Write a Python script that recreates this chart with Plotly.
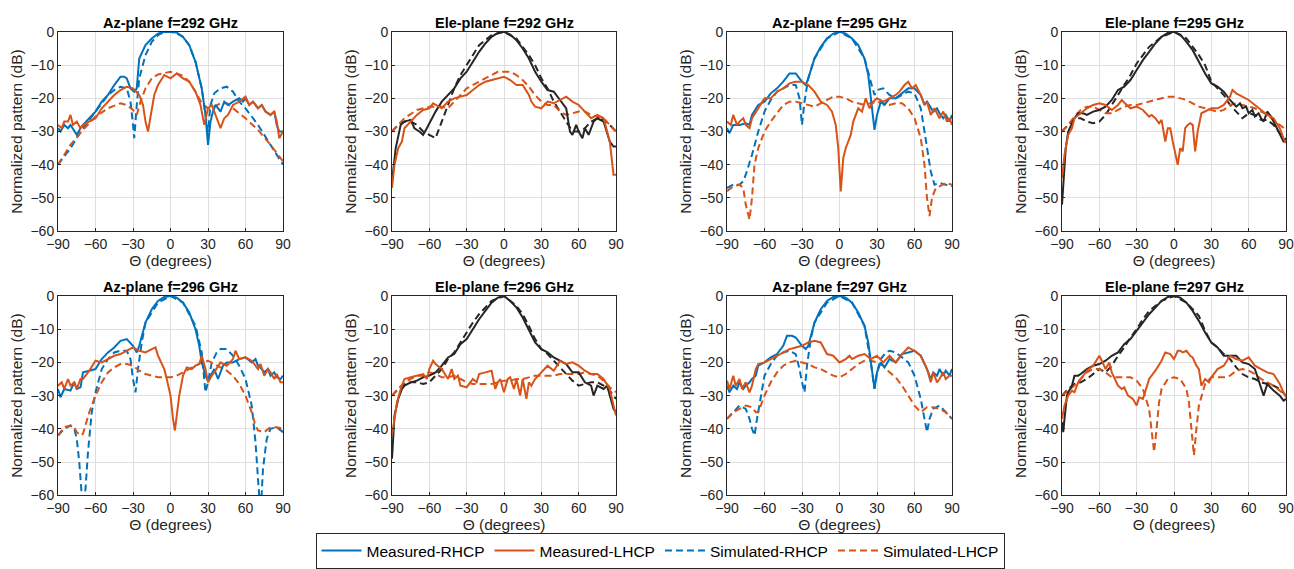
import plotly.graph_objects as go

# ---------------- DATA (theta in degrees, pattern in dB) ----------------
# Panel titles
TITLES = ["Az-plane f=292 GHz", "Ele-plane f=292 GHz", "Az-plane f=295 GHz", "Ele-plane f=295 GHz",
          "Az-plane f=296 GHz", "Ele-plane f=296 GHz", "Az-plane f=297 GHz", "Ele-plane f=297 GHz"]
X_TICKS = [-90, -60, -30, 0, 30, 60, 90]
Y_TICKS = [-60, -50, -40, -30, -20, -10, 0]
SERIES_NAMES = ["Measured-RHCP", "Measured-LHCP", "Simulated-RHCP", "Simulated-LHCP"]

# ---- Az-plane 292 GHz
AZ292_MEAS_RHCP = [(-90,-29),(-88,-30),(-85,-28),(-82,-29),(-80,-28),(-77,-30),(-75,-31),(-72,-29),(-70,-28),(-65,-26),(-60,-24),(-55,-21),(-50,-19),(-45,-16),(-40,-13.5),(-37,-13.5),(-35,-14),(-32,-17),(-29,-18),(-27,-17),(-25,-8),(-20,-4),(-15,-2),(-10,-0.5),(-5,0),(0,0),(5,-0.2),(10,-1.5),(15,-4),(20,-9),(25,-17),(28,-25),(30,-34),(32,-27),(34,-24),(36,-22),(40,-24),(43,-21),(46,-22),(50,-21),(55,-20),(58,-21),(60,-20),(63,-22),(66,-21),(70,-23),(73,-22),(76,-24),(80,-25),(83,-24),(85,-28),(87,-30),(90,-30)]
AZ292_MEAS_LHCP = [(-90,-28),(-87,-29),(-85,-27),(-82,-27),(-80,-25),(-78,-28),(-75,-27),(-72,-29),(-70,-28),(-65,-27),(-60,-26),(-55,-23),(-50,-21),(-45,-19),(-40,-17.5),(-35,-16.5),(-30,-17),(-25,-19),(-22,-22),(-20,-27),(-18,-30),(-16,-26),(-13,-19),(-10,-16),(-5,-13),(0,-14),(5,-12.5),(10,-14),(15,-15),(20,-18),(24,-22),(27,-28),(30,-23),(33,-22),(36,-25),(40,-29),(43,-26),(46,-25),(50,-22),(55,-21),(60,-19.5),(63,-22),(66,-21),(70,-23),(73,-22),(76,-24),(80,-25),(83,-24),(85,-27),(87,-32),(90,-30)]
AZ292_SIM_RHCP = [(-90,-40),(-80,-35),(-70,-29),(-60,-24),(-50,-19),(-45,-17.5),(-40,-16.5),(-35,-17),(-32,-21),(-30,-28),(-29,-32),(-27,-22),(-25,-14),(-20,-7),(-15,-3),(-10,-1),(-5,0),(0,0),(5,-0.5),(10,-1.5),(15,-4),(20,-9),(25,-17),(28,-25),(30,-30),(32,-22),(35,-18.5),(40,-17),(45,-16.5),(50,-18),(55,-21),(60,-23),(70,-28),(80,-34),(90,-40)]
AZ292_SIM_LHCP = [(-90,-40),(-80,-34),(-70,-29.5),(-60,-25.5),(-50,-23),(-40,-21.5),(-35,-22),(-30,-23.5),(-27,-25),(-24,-21),(-20,-17),(-15,-14),(-10,-12.8),(-5,-12.3),(0,-12),(5,-12.5),(10,-13.2),(15,-15),(20,-18),(25,-21.5),(30,-23),(35,-22.5),(40,-21.5),(45,-21.5),(50,-23),(55,-24.5),(60,-26),(70,-29.5),(80,-34),(90,-39)]

# ---- Ele-plane 292 GHz
EL292_MEAS_RHCP = [(-90,-45),(-87,-35),(-83,-28),(-80,-27),(-75,-26.5),(-72,-29),(-68,-30),(-65,-31),(-62,-29),(-58,-26),(-55,-24),(-50,-21),(-45,-19),(-40,-17),(-35,-14),(-30,-12),(-25,-9),(-20,-6),(-15,-3.5),(-10,-1.5),(-5,-0.3),(0,0),(5,-0.8),(10,-2.5),(15,-5),(20,-8),(25,-12),(30,-15),(35,-17.5),(40,-18),(45,-20.5),(50,-23),(53,-30),(55,-31),(58,-28),(60,-30),(63,-32),(65,-29),(68,-31),(72,-27),(75,-26),(80,-27),(85,-33),(88,-34.5),(90,-34.5)]
EL292_MEAS_LHCP = [(-90,-47),(-88,-40),(-85,-35),(-82,-33),(-80,-29),(-75,-27),(-70,-25),(-65,-23.5),(-60,-23),(-57,-21.5),(-55,-22),(-50,-23),(-45,-21),(-40,-20),(-35,-19.5),(-30,-19),(-25,-17.5),(-20,-16),(-15,-15),(-10,-14.5),(-5,-14),(0,-13.5),(5,-14.5),(10,-16),(15,-16),(20,-19),(22,-21),(25,-22.5),(30,-23),(35,-21),(40,-21.5),(45,-20.5),(50,-19.5),(55,-21),(60,-22),(65,-24),(70,-26),(75,-25),(80,-26),(85,-33),(88,-43),(90,-43)]
EL292_SIM_RHCP = [(-90,-30),(-85,-28),(-80,-27),(-75,-27),(-70,-28),(-65,-30),(-60,-31),(-55,-32),(-52,-29),(-48,-25),(-45,-22),(-40,-17),(-35,-13),(-30,-10),(-25,-7),(-20,-4),(-10,-1),(0,0),(10,-2),(20,-7),(25,-10),(30,-14),(35,-17),(40,-21),(45,-24),(50,-27),(55,-30),(60,-30),(65,-29),(70,-27),(75,-26),(80,-26.5),(85,-28),(90,-30)]
EL292_SIM_LHCP = [(-90,-30),(-80,-26),(-70,-23.5),(-60,-22.5),(-50,-22.5),(-45,-23),(-40,-21),(-35,-19),(-30,-17),(-20,-15),(-10,-13),(-5,-12),(0,-12),(5,-12),(10,-13),(15,-14.5),(20,-16.5),(25,-19),(30,-21),(35,-22),(40,-22),(45,-24),(50,-25),(55,-24.5),(60,-24),(65,-24),(70,-25),(80,-26),(85,-28),(90,-30)]

# ---- Az-plane 295 GHz
AZ295_MEAS_RHCP = [(-90,-29),(-88,-30.5),(-85,-28),(-80,-28),(-75,-27.5),(-72,-28),(-70,-25),(-65,-22),(-60,-21),(-55,-18.5),(-50,-17),(-45,-15),(-40,-12.5),(-35,-12.5),(-30,-15),(-27,-16),(-25,-14),(-20,-8),(-15,-4.5),(-10,-2),(-5,-0.5),(0,0),(5,-0.5),(10,-2),(15,-4),(20,-8),(23,-13),(25,-20),(28,-29.5),(30,-25),(33,-21),(36,-22),(40,-20),(45,-20),(50,-18.5),(55,-17),(60,-17),(65,-19),(68,-22),(70,-21),(75,-24),(78,-23),(80,-24.5),(83,-26),(85,-25),(88,-27),(90,-25)]
AZ295_MEAS_LHCP = [(-90,-27),(-87,-28),(-85,-25),(-82,-28),(-80,-27),(-77,-26),(-75,-28),(-72,-29),(-70,-26),(-65,-23),(-60,-20),(-55,-20),(-50,-18),(-45,-17),(-40,-15.5),(-35,-15),(-30,-15),(-25,-16),(-20,-18),(-15,-21),(-10,-22),(-6,-24),(-3,-28),(-1,-35),(1,-48),(3,-38),(5,-35),(7,-33),(9,-31),(11,-27),(13,-25),(15,-23),(18,-24),(21,-20),(24,-23),(27,-21),(30,-20),(35,-21),(40,-20),(45,-19),(48,-18),(52,-16),(55,-15),(58,-17),(61,-16),(65,-19),(68,-22),(70,-21),(73,-25),(76,-23),(80,-26),(83,-24),(86,-27),(88,-26),(90,-28)]
AZ295_SIM_RHCP = [(-90,-47),(-85,-46),(-80,-46),(-77,-45),(-75,-43),(-70,-37),(-65,-30),(-60,-24),(-55,-20.5),(-50,-18),(-45,-17),(-40,-16),(-35,-16),(-32,-20),(-30,-28),(-28,-21),(-25,-14),(-20,-8),(-10,-2),(0,0),(10,-2),(20,-8),(25,-15),(28,-19),(30,-17.5),(35,-17),(40,-19),(45,-20),(50,-19),(55,-18),(60,-18.5),(65,-23),(68,-30),(70,-35),(73,-42),(76,-46),(80,-45.5),(85,-46),(90,-46.5)]
AZ295_SIM_LHCP = [(-90,-48),(-85,-46.5),(-80,-46),(-77,-47),(-75,-52),(-72,-56.5),(-70,-50),(-68,-40),(-65,-35),(-60,-30),(-55,-27),(-50,-24.5),(-45,-22),(-40,-21),(-35,-21),(-30,-21.5),(-25,-22),(-20,-22.5),(-15,-21.5),(-10,-20.5),(-5,-19.5),(0,-19.5),(5,-20),(10,-21),(15,-21.5),(20,-22),(25,-21.5),(30,-21),(35,-21.5),(40,-22),(45,-21.5),(50,-21.5),(55,-23),(60,-26),(65,-32),(68,-40),(70,-50),(72,-55.5),(74,-50),(77,-47),(80,-46.5),(85,-45.5),(90,-46)]

# ---- Ele-plane 295 GHz
EL295_MEAS_RHCP = [(-90,-52),(-89,-45),(-87,-35),(-85,-30),(-80,-26),(-77,-24.5),(-73,-24.5),(-70,-25),(-65,-24),(-60,-23.5),(-55,-22.5),(-50,-20.5),(-45,-17.5),(-40,-16.5),(-35,-14.5),(-30,-11.5),(-25,-8.5),(-20,-6),(-15,-3.5),(-10,-1.5),(-5,-0.3),(0,0),(5,-0.8),(10,-3),(15,-5.5),(20,-9),(25,-12.5),(30,-15.5),(35,-16.5),(40,-18),(45,-20.5),(50,-22.5),(53,-21.5),(55,-23),(58,-22.5),(60,-24.5),(63,-23.5),(65,-25.5),(68,-24.5),(70,-26),(72,-27),(75,-24),(78,-25.5),(80,-27),(85,-31),(88,-33),(90,-33)]
EL295_MEAS_LHCP = [(-90,-44),(-88,-37),(-85,-31),(-82,-29),(-80,-26),(-75,-24.5),(-70,-23),(-65,-22),(-60,-21.5),(-55,-22),(-50,-23.5),(-45,-22),(-42,-20.5),(-38,-22),(-35,-23),(-30,-22.5),(-25,-23.5),(-20,-25.5),(-18,-25),(-15,-26),(-12,-27.5),(-10,-26.5),(-7,-33),(-5,-29),(-3,-29),(-1,-33),(1,-37),(3,-40),(5,-35),(7,-36),(9,-29),(11,-28),(13,-27.5),(15,-28),(17,-36),(19,-30),(22,-24.5),(25,-24),(30,-23),(35,-23),(40,-22),(45,-19.5),(47,-17.5),(50,-18.5),(55,-19.5),(60,-20.5),(65,-22),(70,-23.5),(75,-25),(80,-26),(85,-29),(88,-32),(90,-33.5)]
EL295_SIM_RHCP = [(-90,-30),(-85,-28),(-80,-26),(-75,-26),(-70,-27),(-65,-27.5),(-60,-27),(-55,-25),(-50,-22),(-45,-19),(-40,-16),(-35,-13),(-30,-9.5),(-25,-7),(-20,-4.5),(-10,-1.5),(0,0),(10,-2),(20,-7),(25,-10),(30,-15),(35,-17),(40,-19),(45,-22),(50,-24),(55,-26),(60,-24.5),(65,-25),(70,-26.5),(75,-26.5),(80,-28),(85,-30.5),(90,-32.5)]
EL295_SIM_LHCP = [(-90,-30),(-85,-28),(-80,-25.5),(-75,-23.5),(-70,-22.5),(-65,-22.5),(-60,-23.5),(-55,-24.5),(-50,-24.5),(-45,-23.5),(-40,-22.5),(-35,-22),(-30,-22),(-25,-21.5),(-20,-21),(-15,-20.5),(-10,-20),(-5,-19.5),(0,-19.5),(5,-20),(10,-20.5),(15,-21.5),(20,-22.5),(25,-23),(30,-23.5),(35,-24),(40,-23.5),(45,-22),(50,-21.5),(55,-22),(60,-22.5),(65,-23),(70,-24),(75,-25),(80,-26.5),(85,-28),(90,-29.5)]

# ---- Az-plane 296 GHz
AZ296_MEAS_RHCP = [(-90,-28),(-88,-30.5),(-85,-28),(-80,-28.5),(-77,-26),(-75,-28),(-72,-27.5),(-70,-23),(-65,-22.5),(-60,-22),(-55,-19),(-50,-17),(-45,-15.5),(-40,-13.5),(-35,-13),(-30,-15),(-27,-17),(-25,-15),(-20,-8),(-15,-4),(-10,-1.5),(-5,-0.3),(0,0),(5,-0.5),(10,-2),(15,-5),(20,-10),(23,-15),(25,-20),(28,-24),(30,-25.5),(32,-24),(35,-22),(38,-25),(42,-21),(45,-20),(50,-20),(55,-19),(60,-18.5),(65,-20),(68,-19),(70,-21),(73,-22),(75,-23),(78,-22),(80,-24),(83,-23),(85,-24.5),(88,-25),(90,-24)]
AZ296_MEAS_LHCP = [(-90,-27),(-87,-26),(-85,-28),(-82,-25),(-80,-27),(-77,-26),(-75,-28),(-72,-25),(-70,-25),(-65,-22.5),(-60,-19.5),(-55,-20),(-50,-19),(-45,-18),(-40,-17.5),(-35,-16.5),(-30,-15.5),(-25,-16.5),(-20,-17),(-15,-16),(-12,-15.5),(-10,-18),(-5,-22),(-3,-25),(0,-30),(2,-37),(3.5,-40.5),(5,-36),(7,-30),(10,-24),(13,-21.5),(17,-22),(20,-21),(23,-20.5),(25,-18),(28,-22),(30,-26),(33,-24),(35,-23),(40,-20),(45,-21),(50,-19),(52,-16.5),(55,-19),(60,-18.5),(65,-19.5),(70,-22),(72,-20.5),(75,-24),(78,-22),(80,-23),(83,-25),(85,-23.5),(88,-26),(90,-26)]
AZ296_SIM_RHCP = [(-90,-42),(-85,-40),(-80,-39),(-77,-40),(-75,-43),(-73,-50),(-71,-60),(-70,-66),(-68,-58),(-66,-47),(-63,-35),(-60,-29),(-55,-22),(-50,-19),(-45,-17),(-40,-16.5),(-35,-16.5),(-32,-19),(-30,-25),(-28,-29),(-26,-22),(-23,-14),(-20,-8),(-10,-2),(0,0),(10,-2),(20,-9),(25,-17),(28,-29),(30,-26),(33,-20),(37,-17),(40,-16),(45,-16),(50,-18),(55,-21),(60,-25),(65,-33),(68,-44),(70,-55),(72,-66),(74,-52),(77,-43),(80,-40),(85,-39.5),(90,-41)]
AZ296_SIM_LHCP = [(-90,-42),(-85,-39.5),(-80,-39),(-77,-39.5),(-75,-41),(-72,-42),(-70,-41.5),(-67,-38),(-65,-35),(-60,-30),(-55,-26),(-50,-23),(-45,-21.5),(-40,-20.5),(-35,-20.5),(-30,-21),(-25,-22.5),(-20,-23.5),(-15,-24),(-10,-24.5),(-5,-24.5),(0,-24.5),(5,-24),(10,-23),(15,-22),(20,-21),(25,-20),(30,-19.5),(35,-20.5),(40,-21.5),(45,-22.5),(50,-24),(55,-26.5),(60,-30),(65,-35),(68,-39),(70,-40.5),(75,-41),(80,-39.5),(85,-39.5),(90,-40)]

# ---- Ele-plane 296 GHz
EL296_MEAS_RHCP = [(-90,-49),(-89,-42),(-88,-36),(-85,-31),(-82,-28),(-80,-27),(-75,-26),(-70,-25.5),(-65,-24.5),(-60,-24),(-55,-23),(-50,-21),(-45,-18.5),(-40,-17.5),(-35,-14.5),(-30,-13),(-25,-10),(-20,-7),(-15,-4.5),(-10,-2),(-5,-0.5),(0,0),(5,-1.5),(10,-3.5),(15,-6.5),(20,-10.5),(25,-14),(30,-16),(35,-17),(40,-18.5),(45,-19.5),(50,-20.5),(55,-23),(60,-23),(65,-26),(70,-27),(72,-30),(75,-27),(80,-28),(83,-27),(85,-30),(88,-34),(90,-35)]
EL296_MEAS_LHCP = [(-90,-42),(-88,-37),(-86,-32),(-83,-28),(-80,-25),(-75,-24.5),(-70,-24),(-65,-23.5),(-62,-25),(-60,-22),(-57,-19.5),(-55,-20.5),(-50,-22),(-45,-25),(-42,-22),(-40,-25),(-37,-24),(-35,-27),(-30,-27.5),(-25,-25),(-22,-26),(-20,-23.5),(-15,-23),(-10,-22.5),(-7,-28),(-5,-26),(-3,-25),(0,-29),(3,-25),(5,-24.5),(8,-28),(10,-25),(13,-30),(15,-25),(18,-31),(20,-26),(22,-27),(25,-25),(30,-23),(35,-21),(40,-22.5),(45,-19.5),(50,-20.5),(55,-20),(60,-21),(65,-22.5),(70,-23.5),(75,-23.5),(80,-25),(85,-28),(88,-33),(90,-36)]
EL296_SIM_RHCP = [(-90,-30),(-85,-28),(-80,-26.5),(-75,-26),(-70,-26),(-65,-26.5),(-60,-26),(-55,-24),(-50,-22),(-45,-19),(-40,-17),(-35,-14),(-30,-11),(-25,-8),(-20,-5.5),(-10,-1.5),(0,0),(10,-3),(15,-5.5),(20,-9),(25,-13),(30,-16),(35,-17.5),(40,-19.5),(45,-21.5),(50,-23.5),(55,-25.5),(60,-27),(65,-26.5),(70,-26),(75,-26),(80,-27),(85,-28.5),(90,-31)]
EL296_SIM_LHCP = [(-90,-30),(-85,-28),(-80,-26),(-75,-25),(-70,-24),(-65,-24),(-60,-23),(-55,-23.5),(-50,-24.5),(-45,-24.5),(-40,-24),(-35,-25),(-30,-26),(-25,-26.5),(-20,-26.5),(-15,-26.5),(-10,-26.5),(-5,-26),(0,-25.5),(5,-25.5),(10,-25),(15,-25),(20,-24.5),(25,-24),(30,-24),(35,-24),(40,-24),(45,-23.5),(50,-23.5),(55,-23.5),(60,-23.5),(65,-23),(70,-23.5),(75,-24),(80,-25.5),(85,-27.5),(90,-29)]

# ---- Az-plane 297 GHz
AZ297_MEAS_RHCP = [(-90,-27),(-88,-29),(-85,-27),(-82,-28),(-80,-26),(-77,-28),(-75,-27),(-72,-26),(-70,-25),(-67,-24),(-65,-21),(-60,-20),(-55,-18.5),(-50,-17.5),(-45,-15),(-42,-12),(-38,-12),(-35,-12.5),(-30,-15),(-27,-16),(-25,-15),(-20,-8),(-15,-4),(-10,-1.5),(-5,-0.3),(0,0),(5,-0.5),(10,-2),(15,-5),(20,-9),(23,-14),(25,-20),(28,-28),(30,-23),(33,-20),(36,-21.5),(40,-19),(45,-20),(50,-17.5),(55,-17),(60,-16.5),(65,-18),(70,-22),(73,-25),(75,-23),(78,-24),(80,-22),(83,-24),(85,-22.5),(88,-24),(90,-22)]
AZ297_MEAS_LHCP = [(-90,-25.5),(-88,-28),(-85,-24),(-83,-27),(-80,-25),(-78,-28),(-75,-26),(-72,-29),(-70,-27),(-67,-22),(-65,-20.5),(-60,-20),(-55,-19),(-50,-18),(-45,-17),(-40,-16),(-35,-15.5),(-30,-15),(-25,-14),(-20,-13.5),(-15,-14),(-12,-16),(-10,-17.5),(-5,-18),(0,-20),(5,-19),(8,-18),(10,-19),(15,-18),(20,-17.5),(25,-19),(30,-18),(35,-20),(40,-18),(45,-20),(50,-17.5),(55,-15.5),(60,-16.5),(65,-18),(70,-22),(73,-26),(75,-23),(78,-26),(80,-25),(83,-23),(85,-25),(88,-24),(90,-24)]
AZ297_SIM_RHCP = [(-90,-37),(-85,-35),(-80,-33),(-75,-34),(-72,-37),(-70,-40),(-68,-42),(-66,-37),(-63,-30),(-60,-24),(-55,-20.5),(-50,-18),(-45,-17),(-40,-16.5),(-35,-17.5),(-32,-22),(-30,-26),(-28,-29),(-26,-21),(-23,-13),(-20,-8),(-10,-2),(0,0),(10,-2),(20,-9),(25,-20),(28,-28),(30,-23),(33,-19),(37,-17),(40,-16.5),(45,-17),(50,-18.5),(55,-20),(60,-24),(65,-31),(68,-37),(70,-41),(72,-37),(75,-34),(80,-33),(85,-35),(90,-37)]
AZ297_SIM_LHCP = [(-90,-37),(-85,-35),(-80,-34),(-75,-33),(-70,-33.5),(-67,-35),(-65,-35),(-62,-32),(-60,-30),(-55,-26),(-50,-23),(-45,-21),(-40,-20),(-35,-19.5),(-30,-20),(-25,-20.5),(-20,-21.5),(-15,-22),(-10,-23),(-5,-24),(0,-24.5),(5,-23.5),(10,-22),(15,-20.5),(20,-19.5),(25,-19.5),(30,-20),(35,-21),(40,-23),(45,-24.5),(50,-27),(55,-30),(60,-33),(65,-35),(70,-33.5),(75,-33.5),(80,-34),(85,-35),(90,-37)]

# ---- Ele-plane 297 GHz
EL297_MEAS_RHCP = [(-90,-38),(-89,-41),(-88,-37),(-86,-30),(-85,-29),(-82,-27),(-80,-24),(-77,-24),(-75,-23.5),(-70,-22),(-65,-21),(-60,-20.5),(-55,-19.5),(-50,-18),(-45,-17),(-40,-14.5),(-35,-13),(-30,-10.5),(-25,-8),(-20,-5.5),(-15,-3.5),(-10,-1.5),(-5,-0.3),(0,0),(5,-0.5),(10,-2),(15,-4.5),(20,-7.5),(25,-11),(30,-14),(35,-15.5),(40,-18),(45,-18),(50,-18),(55,-20),(60,-20.5),(65,-22),(70,-28),(72,-30),(75,-26.5),(80,-28.5),(85,-30),(88,-31.5),(90,-31)]
EL297_MEAS_LHCP = [(-90,-37),(-88,-33),(-85,-30),(-82,-28.5),(-80,-29),(-77,-26),(-75,-25),(-70,-22.5),(-65,-21),(-60,-18),(-58,-19.5),(-55,-22),(-52,-20),(-50,-23),(-45,-27),(-42,-28),(-40,-27.5),(-37,-30),(-33,-31),(-30,-33),(-28,-30.5),(-25,-31),(-22,-27.5),(-20,-25),(-15,-22.5),(-10,-19.5),(-7,-17),(-3,-17.5),(0,-19),(3,-16.5),(5,-16.5),(7,-17),(10,-16.5),(13,-18),(15,-18.5),(18,-21),(20,-22),(22,-27),(25,-25),(28,-26),(30,-24.5),(35,-22),(40,-21),(45,-18),(50,-19),(55,-19.5),(60,-18.5),(65,-21),(70,-22),(75,-23),(80,-23.5),(85,-26.5),(88,-29),(90,-30.5)]
EL297_SIM_RHCP = [(-90,-30),(-85,-28),(-80,-26.5),(-75,-26),(-70,-25),(-65,-23.5),(-60,-22),(-55,-23),(-50,-21),(-45,-18),(-40,-15.5),(-35,-12.5),(-30,-10),(-25,-7),(-20,-4.5),(-10,-1.5),(0,0),(10,-2),(20,-6),(25,-10.5),(30,-14),(35,-15.5),(40,-17.5),(45,-19),(50,-21.5),(55,-23.5),(60,-24.5),(65,-25),(70,-26),(75,-26.5),(80,-27),(85,-28),(90,-30)]
EL297_SIM_LHCP = [(-90,-30),(-85,-28.5),(-80,-27),(-75,-25),(-70,-23),(-65,-22),(-60,-22),(-55,-23),(-50,-24.5),(-45,-24.5),(-40,-24.5),(-35,-24.5),(-30,-25.5),(-25,-28),(-20,-34),(-18,-40),(-16,-47),(-14,-40),(-12,-32),(-10,-28),(-5,-25),(0,-24.5),(5,-25),(10,-28),(12,-32),(14,-40),(16,-48),(18,-40),(20,-33),(25,-26.5),(30,-24.5),(35,-24.5),(40,-24.5),(45,-24),(50,-22.5),(55,-22),(60,-22.5),(65,-23.5),(70,-25),(75,-26),(80,-27),(85,-28.5),(90,-30)]

PANELS = [
    (AZ292_MEAS_RHCP, AZ292_MEAS_LHCP, AZ292_SIM_RHCP, AZ292_SIM_LHCP),
    (EL292_MEAS_RHCP, EL292_MEAS_LHCP, EL292_SIM_RHCP, EL292_SIM_LHCP),
    (AZ295_MEAS_RHCP, AZ295_MEAS_LHCP, AZ295_SIM_RHCP, AZ295_SIM_LHCP),
    (EL295_MEAS_RHCP, EL295_MEAS_LHCP, EL295_SIM_RHCP, EL295_SIM_LHCP),
    (AZ296_MEAS_RHCP, AZ296_MEAS_LHCP, AZ296_SIM_RHCP, AZ296_SIM_LHCP),
    (EL296_MEAS_RHCP, EL296_MEAS_LHCP, EL296_SIM_RHCP, EL296_SIM_LHCP),
    (AZ297_MEAS_RHCP, AZ297_MEAS_LHCP, AZ297_SIM_RHCP, AZ297_SIM_LHCP),
    (EL297_MEAS_RHCP, EL297_MEAS_LHCP, EL297_SIM_RHCP, EL297_SIM_LHCP),
]

# ---------------- STYLE / LAYOUT ----------------
W, H = 1294, 569
BLUE = "#0072BD"
ORANGE = "#D95319"
BLACK = "#262626"
FONT = "Liberation Sans, Arial, Helvetica, sans-serif"
DASH = "7px,4px"

X_PX = [(58, 283), (392, 616), (727, 952), (1062, 1286)]
Y_PX = [(32, 232), (297, 497)]

fig = go.Figure()

for i, series in enumerate(PANELS):
    row, col = divmod(i, 4)
    n = i + 1
    xa = "x" if n == 1 else f"x{n}"
    ya = "y" if n == 1 else f"y{n}"
    ele = "Ele" in TITLES[i]
    co_col = BLACK if ele else BLUE
    styles = [
        (co_col, "solid"),
        (ORANGE, "solid"),
        (co_col, DASH),
        (ORANGE, DASH),
    ]
    for k in [2, 3, 0, 1]:
        pts = series[k]
        color, dash = styles[k]
        fig.add_trace(go.Scatter(
            x=[p[0] for p in pts], y=[p[1] for p in pts],
            mode="lines", name=SERIES_NAMES[k],
            line=dict(color=color, width=2, dash=dash),
            showlegend=(i == 0), legendrank=k + 1,
            xaxis=xa, yaxis=ya, cliponaxis=True,
        ))

    x0, x1 = X_PX[col]
    yt, yb = Y_PX[row]
    axis_common = dict(
        showline=True, linecolor=BLACK, linewidth=1, mirror=True,
        ticks="inside", ticklen=3, tickcolor=BLACK,
        showgrid=True, gridcolor="#DFDFDF", gridwidth=1,
        zeroline=False, automargin=False,
        tickfont=dict(family=FONT, size=14, color=BLACK),
    )
    fig.update_layout(**{
        ("xaxis" if n == 1 else f"xaxis{n}"): dict(
            axis_common, domain=[x0 / W, x1 / W], anchor=ya,
            range=[-90, 90], tickvals=X_TICKS,
            title=dict(text="\u0398 (degrees)", font=dict(family=FONT, size=15.5, color=BLACK), standoff=2),
        ),
        ("yaxis" if n == 1 else f"yaxis{n}"): dict(
            axis_common, domain=[1 - yb / H, 1 - yt / H], anchor=xa,
            range=[-60, 0], tickvals=Y_TICKS,
            title=dict(text="Normalized pattern (dB)", font=dict(family=FONT, size=15.5, color=BLACK), standoff=4),
        ),
    })
    fig.add_annotation(
        text=f"<b>{TITLES[i]}</b>", xref="paper", yref="paper",
        x=(x0 + x1) / 2 / W, y=1 - yt / H, xanchor="center", yanchor="bottom",
        yshift=-1, showarrow=False, font=dict(family=FONT, size=14.5, color="#000000"),
    )

fig.update_layout(
    width=W, height=H,
    margin=dict(l=0, r=0, t=0, b=0),
    paper_bgcolor="white", plot_bgcolor="white",
    legend=dict(
        orientation="h", x=660 / W, xanchor="center", y=1 - 553 / H, yanchor="middle",
        bordercolor=BLACK, borderwidth=1, bgcolor="white",
        font=dict(family=FONT, size=15.5, color="#000000"),
        itemwidth=40, tracegroupgap=0,
        traceorder="normal",
    ),
)

# remove the browser's default 8px page margin so the figure fills the window exactly
fig.write_html("out.html", config={"displayModeBar": False},
               post_script="document.body.style.margin='0';document.body.style.overflow='hidden';")
